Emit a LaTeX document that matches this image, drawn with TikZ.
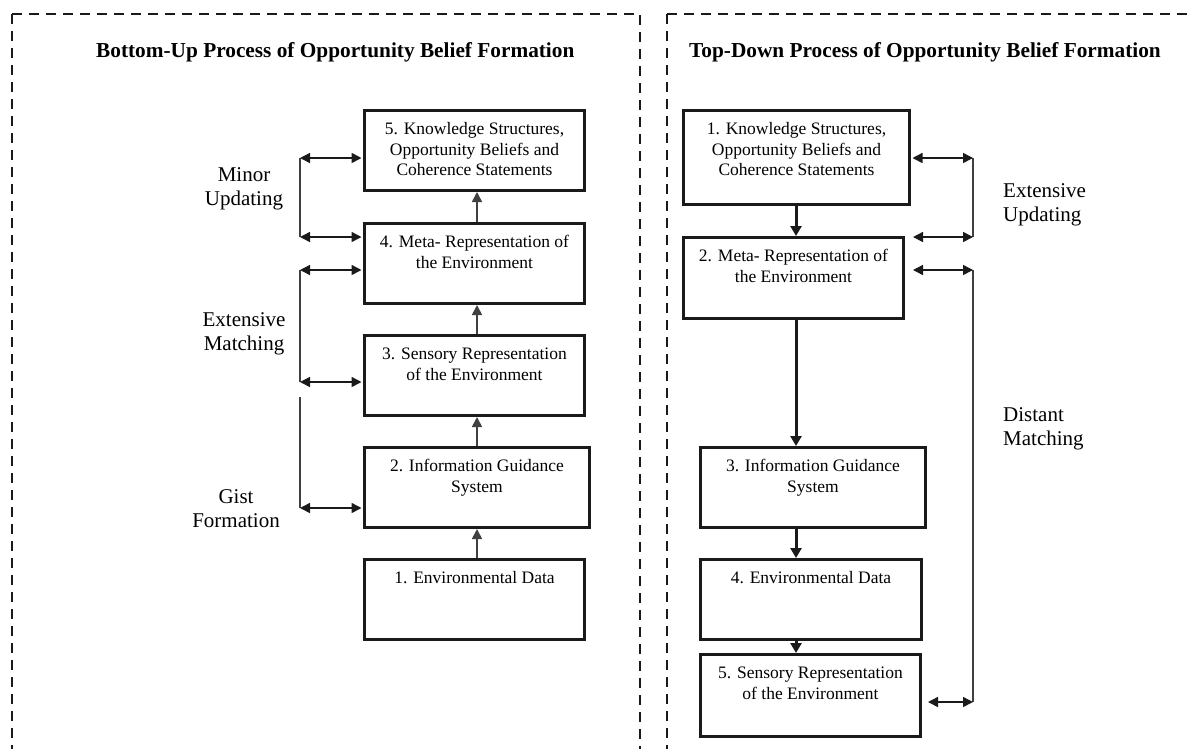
\documentclass[tikz,border=0pt]{standalone}
\usepackage{fontspec}
\setmainfont{Liberation Serif}
\usetikzlibrary{arrows.meta}
\definecolor{ink}{HTML}{1A1A1A}
\definecolor{thinline}{HTML}{404040}
\newcommand{\boxtxt}[3]{\parbox[c][#2][t]{#1}{\centering\fontsize{17.5pt}{20.5pt}\selectfont\rule{0pt}{24pt}#3}}
\tikzset{
  bx/.style={draw=ink, line width=3pt, inner sep=0pt, anchor=north west},
  frame/.style={draw=ink, line width=2.3pt, dash pattern=on 10pt off 7pt},
  uparr/.style={draw=thinline, line width=1.7pt, -{Triangle[length=10pt,width=10pt]}},
  dnarr/.style={draw=ink, line width=3pt, -{Triangle[length=10pt,width=11pt]}},
  brk/.style={draw=thinline, line width=1.7pt},
  dbl/.style={draw=ink, line width=1.5pt, {Triangle[length=10pt,width=10pt]}-{Triangle[length=10pt,width=10pt]}},
  ttl/.style={font=\fontsize{21.3pt}{25pt}\selectfont\bfseries, inner sep=0pt},
  lbl/.style={font=\fontsize{21pt}{24pt}\selectfont, inner sep=0pt}
}
\begin{document}
\begin{tikzpicture}[x=1pt,y=-1pt]
\useasboundingbox (0,0) rectangle (1190,748);
% frames
\draw[frame] (12,14) -- (12,770);
\draw[frame] (12,14) -- (640,14) -- (640,770);
\draw[frame] (667,14) -- (667,770);
\draw[frame] (667,14) -- (1210,14);
% titles
\node[ttl, anchor=base west] (t1) at (96,57) {Bottom-Up Process of Opportunity Belief Formation};
\node[ttl, anchor=base west] (t2) at (689,57) {Top-Down Process of Opportunity Belief Formation};
% left boxes
\node[bx] (L5) at (363,109) {\boxtxt{220pt}{80pt}{5. Knowledge Structures,\\Opportunity Beliefs and\\Coherence Statements}};
\node[bx] (L4) at (363,222) {\boxtxt{220pt}{80pt}{4. Meta- Representation of\\the Environment}};
\node[bx] (L3) at (363,334) {\boxtxt{220pt}{80pt}{3. Sensory Representation\\of the Environment}};
\node[bx] (L2) at (363,446) {\boxtxt{225pt}{80pt}{2. Information Guidance\\System}};
\node[bx] (L1) at (363,558) {\boxtxt{220pt}{80pt}{1. Environmental Data}};
% left up arrows
\draw[uparr] (L1.north -| L2.south) -- (L2.south);
\draw[uparr] (L2.north) -- (L3.south -| L2.north);
\draw[uparr] (L3.north -| L2.north) -- (L4.south -| L2.north);
\draw[uparr] (L4.north -| L2.north) -- (L5.south -| L2.north);
% left brackets
\coordinate (mu1) at (300,158);
\coordinate (mu2) at (300,237);
\coordinate (em1) at (300,270);
\coordinate (em2) at (300,382);
\coordinate (gf1) at (300,397);
\coordinate (gf2) at (300,508);
\draw[brk] (mu1) -- (mu2);
\draw[brk] (em1) -- (em2);
\draw[brk] (gf1) -- (gf2);
\draw[dbl, shorten >=1.5pt] (mu1) -- (mu1 -| L5.west);
\draw[dbl, shorten >=1.5pt] (mu2) -- (mu2 -| L4.west);
\draw[dbl, shorten >=1.5pt] (em1) -- (em1 -| L4.west);
\draw[dbl, shorten >=1.5pt] (em2) -- (em2 -| L3.west);
\draw[dbl, shorten >=1.5pt] (gf2) -- (gf2 -| L2.west);
% left labels
\node[lbl, align=center] (lmu) at (244,189) {Minor\\Updating};
\node[lbl, align=center] (lem) at (244,334) {Extensive\\Matching};
\node[lbl, align=center] (lgf) at (236,509) {Gist\\Formation};
% right boxes
\node[bx] (R1) at (682,109) {\boxtxt{226pt}{94pt}{1. Knowledge Structures,\\Opportunity Beliefs and\\Coherence Statements}};
\node[bx] (R2) at (682,236) {\boxtxt{220pt}{81pt}{2. Meta- Representation of\\the Environment}};
\node[bx] (R3) at (699,446) {\boxtxt{225pt}{80pt}{3. Information Guidance\\System}};
\node[bx] (R4) at (699,558) {\boxtxt{221pt}{80pt}{4. Environmental Data}};
\node[bx] (R5) at (699,653) {\boxtxt{220pt}{82pt}{5. Sensory Representation\\of the Environment}};
% right down arrows
\coordinate (rc) at (796,0);
\draw[dnarr] (R1.south -| rc) -- (R2.north -| rc);
\draw[dnarr] (R2.south -| rc) -- (R3.north -| rc);
\draw[dnarr] (R3.south -| rc) -- (R4.north -| rc);
\draw[dnarr] (R4.south -| rc) -- (R5.north -| rc);
% right brackets
\coordinate (eu1) at (973,158);
\coordinate (eu2) at (973,237);
\coordinate (dm1) at (973,270);
\coordinate (dm2) at (973,702);
\draw[brk] (eu1) -- (eu2);
\draw[brk] (dm1) -- (dm2);
\draw[dbl, shorten <=1.5pt] (R1.east |- eu1) -- (eu1);
\draw[dbl, shorten <=8pt] (R2.east |- eu2) -- (eu2);
\draw[dbl, shorten <=8pt] (R2.east |- dm1) -- (dm1);
\draw[dbl, shorten <=6pt] (R5.east |- dm2) -- (dm2);
% right labels
\node[lbl, align=left, anchor=west] (reu) at (1003,205) {Extensive\\Updating};
\node[lbl, align=left, anchor=west] (rdm) at (1003,429) {Distant\\Matching};
\end{tikzpicture}
\end{document}
